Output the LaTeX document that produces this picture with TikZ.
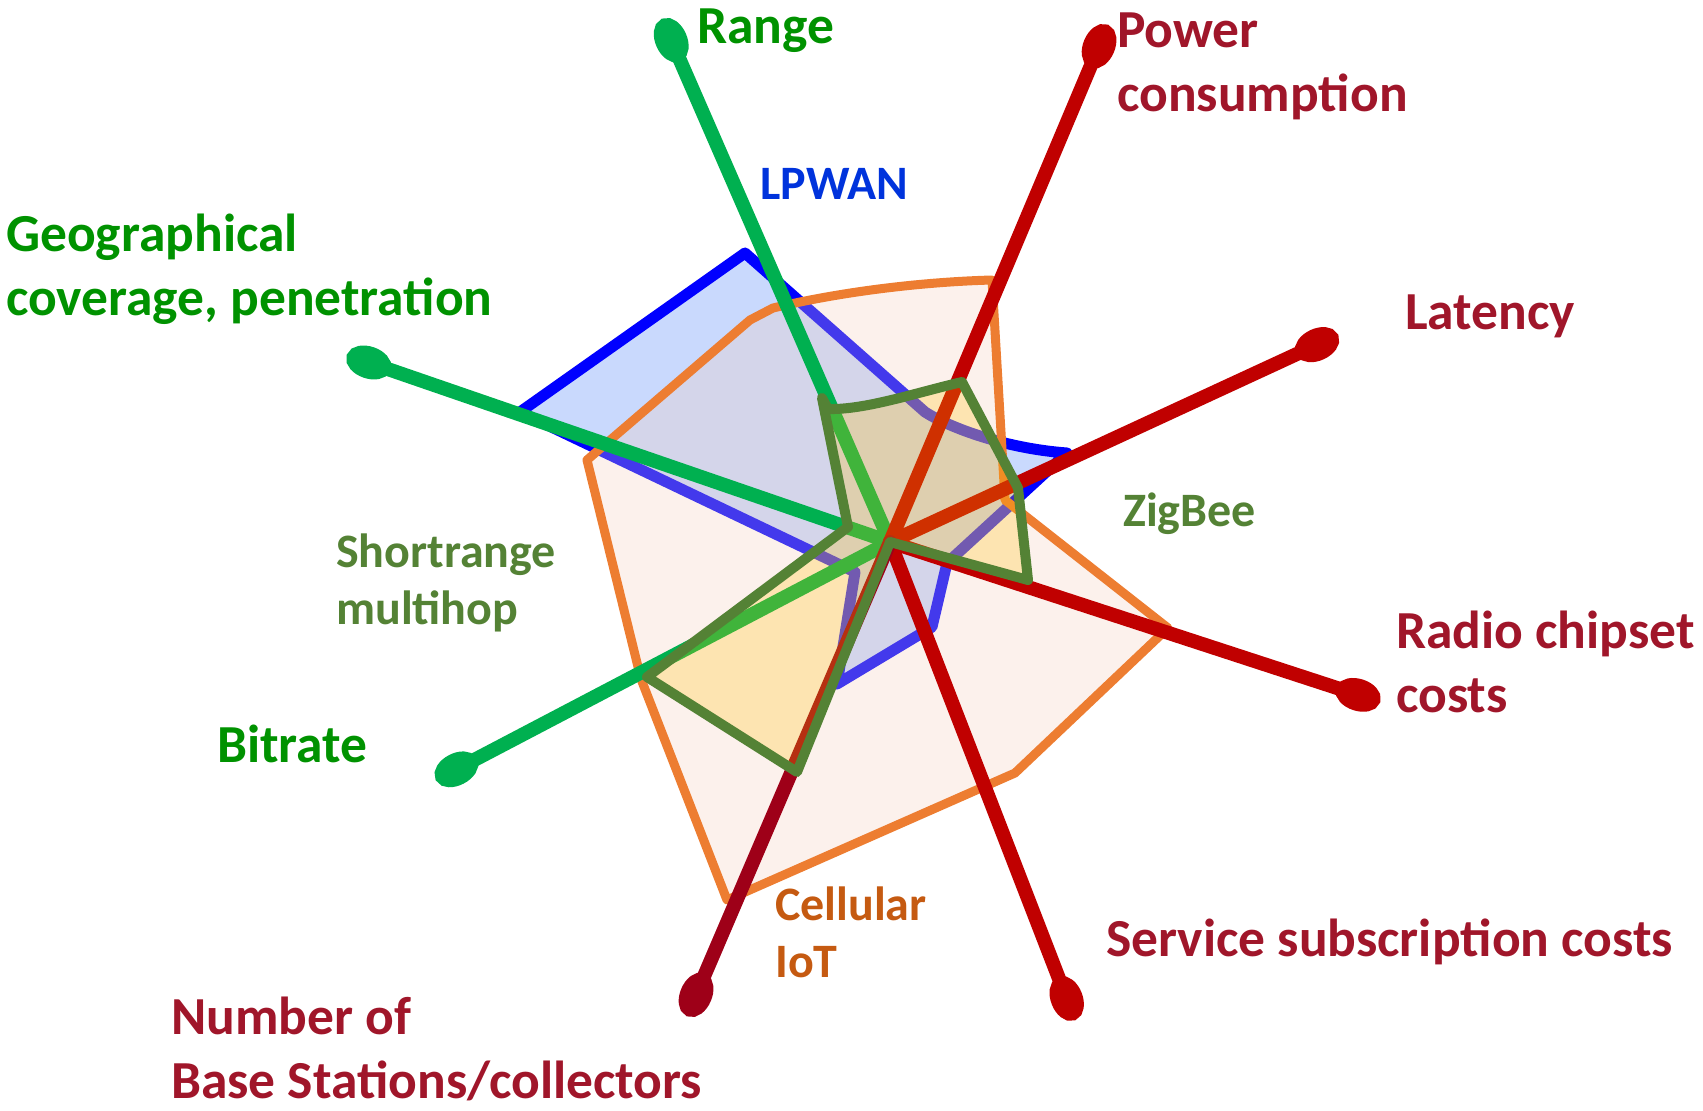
\documentclass[tikz,border=0pt]{standalone}
\usepackage{fontspec}
\setmainfont{Carlito}
\usetikzlibrary{arrows.meta}

\definecolor{lpwanblue}{RGB}{0,0,255}
\definecolor{lpwanfill}{RGB}{201,217,253}
\definecolor{cellorange}{RGB}{237,125,49}
\definecolor{cellfill}{RGB}{244,205,187}
\definecolor{zbgreen}{RGB}{84,130,53}
\definecolor{zbfill}{RGB}{255,192,0}
\definecolor{spokegreen}{RGB}{0,176,80}
\definecolor{spokered}{RGB}{192,0,0}
\definecolor{spokedark}{RGB}{158,0,24}
\definecolor{txtgreen}{RGB}{0,146,0}
\definecolor{txtred}{RGB}{160,22,42}
\definecolor{txtblue}{RGB}{0,51,220}
\definecolor{txtorange}{RGB}{197,90,17}

\begin{document}
\begin{tikzpicture}[x=1pt,y=-1pt,
  spoke/.style={line width=14pt, line cap=round,
    -{Ellipse[length=46pt,width=32pt]}},
  bigtext/.style={font=\fontsize{53.5}{64}\selectfont\bfseries,
    inner sep=0pt, anchor=base west, align=left},
  smalltext/.style={font=\fontsize{48}{57}\selectfont\bfseries,
    inner sep=0pt, anchor=base west, align=left},
  outline/.style={line join=round, line cap=round}]

\useasboundingbox (0,0) rectangle (1703,1111);

% common centre of all axes
\coordinate (C) at (890,542);

% far ends of the axes (tips of the oval caps)
\coordinate (eRange)   at (662,19);
\coordinate (ePower)   at (1108,25);
\coordinate (eLatency) at (1338,335);
\coordinate (eRadio)   at (1380,702);
\coordinate (eService) at (1075,1020);
\coordinate (eBase)    at (687,1016);
\coordinate (eBitrate) at (436,780);
\coordinate (eGeo)     at (347,355);

% LPWAN profile
\filldraw[outline, draw=lpwanblue, fill=lpwanfill, line width=11pt]
  (745,253) -- (925,412) .. controls (945,425) and (1000,448) .. (1067,453)
  -- (947,563) -- (932,627) -- (837,684) -- (855,572) -- (520,412) -- cycle;

% Cellular IoT profile
\fill[cellfill, opacity=0.28]
  (587,460) -- (750,320) -- (773,308) .. controls (840,292) and (920,282) .. (992,280)
  -- (1005,500) -- (1168,628) -- (1015,773) -- (727,900) -- (641,679) -- cycle;
\draw[outline, cellorange, line width=9pt]
  (587,460) -- (750,320) -- (773,308) .. controls (840,292) and (920,282) .. (992,280)
  -- (1005,500) -- (1168,628) -- (1015,773) -- (727,900) -- (641,679) -- cycle;

% axes
\draw[spoke, spokegreen] (C) -- (eRange);
\draw[spoke, spokegreen] (C) -- (eGeo);
\draw[spoke, spokegreen] (C) -- (eBitrate);
\draw[spoke, spokered]   (C) -- (ePower);
\draw[spoke, spokered]   (C) -- (eLatency);
\draw[spoke, spokered]   (C) -- (eRadio);
\draw[spoke, spokered]   (C) -- (eService);
\draw[spoke, spokedark]  (C) -- (eBase);

% Shortrange multihop (ZigBee) profile
\fill[zbfill, opacity=0.25]
  (822,398) -- (828,409) .. controls (865,410) and (915,393) .. (962,382)
  -- (1018,488) -- (1028,580) -- (C) -- (797,772) -- (647,677) -- (848,527) -- cycle;
\draw[outline, zbgreen, line width=10pt]
  (822,398) -- (828,409) .. controls (865,410) and (915,393) .. (962,382)
  -- (1018,488) -- (1028,580) -- (C) -- (797,772) -- (647,677) -- (848,527) -- cycle;

% axis labels (anchored on the baseline of the last line)
\node[bigtext, txtgreen] (lRange) at (697,43) {Range};
\node[bigtext, txtgreen] (lGeo) at (6,315) {Geographical\\coverage, penetration};
\node[bigtext, txtgreen] (lBitrate) at (217,762) {Bitrate};
\node[bigtext, txtred] (lPower) at (1117,111) {Power\\consumption};
\node[bigtext, txtred] (lLatency) at (1405,329) {Latency};
\node[bigtext, txtred] (lRadio) at (1396,712) {Radio chipset\\costs};
\node[bigtext, txtred] (lService) at (1106,956) {Service subscription costs};
\node[bigtext, txtred] (lBase) at (171,1098) {Number of\\Base Stations/collectors};

% technology labels
\node[smalltext, txtblue] (tLpwan) at (760,199) {LPWAN};
\node[smalltext, zbgreen] (tZig) at (1123,526) {ZigBee};
\node[smalltext, zbgreen] (tShort) at (336,624) {Shortrange\\multihop};
\node[smalltext, txtorange] (tCell) at (775,977) {Cellular\\IoT};

\end{tikzpicture}
\end{document}
